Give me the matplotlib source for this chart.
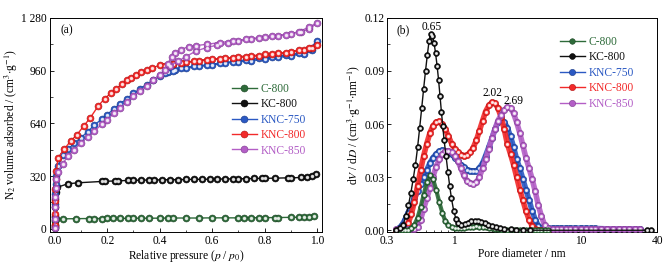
import numpy as np
import matplotlib
matplotlib.use("Agg")
import matplotlib.pyplot as plt
from matplotlib.ticker import MultipleLocator, FixedLocator, NullFormatter, LogLocator

plt.rcParams['font.family'] = ['Liberation Serif', 'DejaVu Serif']
plt.rcParams['mathtext.fontset'] = 'stix'
plt.rcParams['font.size'] = 8.3

# ---- (a) N2 isotherms: adsorption then desorption points ----
p_c800 = [0, 0.0001, 0.0005, 0.001, 0.005, 0.03, 0.08, 0.13, 0.15, 0.18, 0.2, 0.22, 0.25, 0.28, 0.3,
          0.33, 0.36, 0.4, 0.43, 0.45, 0.5, 0.55, 0.6, 0.65, 0.7, 0.72, 0.75, 0.78, 0.8, 0.84, 0.85,
          0.9, 0.93, 0.95, 0.97, 0.99]
v_c800 = [5, 25, 45, 55, 58, 60, 61, 62, 62, 62, 63, 63, 63, 63, 64, 64, 64, 64, 65, 65, 65, 65,
          66, 66, 66, 67, 67, 67, 67, 68, 68, 69, 70, 71, 72, 78]

p_kc800 = [0, 0.0001, 0.0005, 0.001, 0.003, 0.01, 0.05, 0.09, 0.18, 0.19, 0.23, 0.24, 0.28, 0.3,
           0.33, 0.36, 0.38, 0.41, 0.44, 0.47, 0.5, 0.53, 0.56, 0.59, 0.62, 0.65, 0.68, 0.7, 0.73,
           0.76, 0.79, 0.8, 0.84, 0.89, 0.9, 0.94, 0.96, 0.98, 0.995]
v_kc800 = [10, 70, 130, 180, 220, 252, 273, 279, 287, 288, 290, 291, 293, 294, 295, 296, 296, 297,
           298, 298, 299, 300, 300, 301, 302, 302, 303, 303, 304, 305, 306, 306, 307, 309, 309, 311,
           313, 318, 332]

p_knc750 = [0, 0.0001, 0.0005, 0.001, 0.003, 0.006, 0.012, 0.03, 0.05, 0.075, 0.1, 0.125, 0.15,
            0.18, 0.2, 0.225, 0.25, 0.275, 0.3, 0.325, 0.35, 0.375, 0.4, 0.43, 0.46, 0.5, 0.55,
            0.6, 0.65, 0.7, 0.75, 0.8, 0.85, 0.9, 0.95, 0.98, 1.0,
            0.97, 0.93, 0.88, 0.83, 0.78, 0.73, 0.68, 0.63, 0.58, 0.53, 0.48, 0.45, 0.42]
v_knc750 = [15, 80, 150, 210, 270, 320, 380, 445, 481, 520, 552, 590, 627, 668, 693, 728, 760,
            790, 821, 850, 875, 905, 930, 950, 962, 975, 985, 995, 1005, 1015, 1020, 1030, 1040,
            1050, 1062, 1085, 1140,
            1090, 1065, 1055, 1045, 1035, 1025, 1015, 1005, 995, 985, 975, 960, 945]

p_knc800 = [0, 0.0001, 0.0005, 0.001, 0.003, 0.006, 0.012, 0.035, 0.06, 0.085, 0.11, 0.135, 0.165,
            0.19, 0.215, 0.235, 0.255, 0.275, 0.29, 0.31, 0.33, 0.35, 0.37, 0.4, 0.45, 0.5, 0.55,
            0.6, 0.65, 0.7, 0.75, 0.8, 0.85, 0.9, 0.95, 0.98, 1.0,
            0.97, 0.93, 0.88, 0.83, 0.78, 0.73, 0.68, 0.63, 0.58, 0.53, 0.48, 0.45, 0.42]
v_knc800 = [20, 90, 170, 240, 300, 350, 430, 481, 532, 572, 623, 673, 744, 790, 825, 850, 878, 900,
            915, 935, 950, 965, 975, 993, 1000, 1010, 1020, 1030, 1035, 1045, 1050, 1058, 1065,
            1075, 1085, 1100, 1115,
            1098, 1085, 1068, 1060, 1050, 1045, 1035, 1032, 1025, 1017, 1008, 1000, 990]

p_knc850 = [0, 0.0001, 0.0005, 0.001, 0.003, 0.006, 0.012, 0.03, 0.05, 0.075, 0.1, 0.125, 0.15,
            0.18, 0.2, 0.225, 0.25, 0.275, 0.3, 0.325, 0.35, 0.375, 0.4, 0.42, 0.44, 0.47, 0.5,
            0.54, 0.58, 0.62, 0.66, 0.7, 0.75, 0.8, 0.85, 0.9, 0.94, 0.97, 1.0,
            0.97, 0.93, 0.88, 0.83, 0.78, 0.73, 0.68, 0.63, 0.58, 0.54, 0.51, 0.48, 0.46, 0.445, 0.43]
v_knc850 = [5, 60, 130, 190, 250, 300, 345, 395, 440, 480, 521, 556, 592, 635, 663, 700, 734, 770,
            805, 835, 865, 900, 936, 965, 990, 1017, 1045, 1080, 1100, 1115, 1125, 1140, 1150, 1163,
            1172, 1185, 1197, 1210, 1250,
            1225, 1195, 1178, 1168, 1160, 1150, 1140, 1130, 1120, 1112, 1105, 1088, 1065, 1040, 1000]

# ---- (b) pore size distributions ----
d_grid = [0.35, 0.370, 0.392, 0.414, 0.438, 0.464, 0.490, 0.519, 0.549, 0.580, 0.614, 0.650,
          0.687, 0.727, 0.769, 0.813, 0.860, 0.910, 0.963, 1.02, 1.08, 1.14, 1.20, 1.27, 1.35,
          1.42, 1.51, 1.59, 1.69, 1.78, 1.89, 2.00, 2.11, 2.23, 2.36, 2.50, 2.64, 2.80, 2.96,
          3.13, 3.31, 3.50, 3.70, 3.92, 4.14, 4.38, 4.64, 4.90, 5.19, 5.49]
d_tail = [6.0, 6.5, 7.0, 7.6, 8.2, 9.0, 10, 11, 12, 13, 14.5, 16, 18, 20, 22, 24, 26.5, 29]

psd_c800 = [0, 0, 0, 0, 0, 0.001, 0.003, 0.007, 0.013, 0.020, 0.027, 0.031, 0.029, 0.023, 0.016,
            0.010, 0.005, 0.0028, 0.0018, 0.0012, 0.0012, 0.0013, 0.0015, 0.0018, 0.002, 0.0021,
            0.0022, 0.0021, 0.0019, 0.0016, 0.0013, 0.001, 0.0007, 0.0005, 0.0003, 0.0002, 0.0001,
            0, 0, 0, 0, 0, 0, 0, 0, 0, 0, 0, 0, 0]
psd_knc750 = [0, 0.001, 0.003, 0.006, 0.010, 0.014, 0.018, 0.022, 0.026, 0.030, 0.034, 0.038,
              0.041, 0.043, 0.0445, 0.0452, 0.045, 0.0442, 0.043, 0.041, 0.039, 0.037, 0.0355,
              0.0343, 0.0337, 0.0335, 0.0335, 0.035, 0.038, 0.042, 0.047, 0.052, 0.057, 0.061,
              0.0625, 0.061, 0.058, 0.053, 0.047, 0.040, 0.035, 0.029, 0.023, 0.017, 0.011, 0.006,
              0.0025, 0.0014, 0.0012, 0.0012]
psd_knc750_tail = [0.0012, 0.0012, 0.0012, 0.0012, 0.0012, 0.0012, 0.0012, 0.0012, 0.0011, 0.001,
                   0.0009, 0.0008, 0.0008, 0.0008, 0.0008, 0.0008, 0.0008, 0.0008]
psd_knc800 = [0, 0, 0, 0.001, 0.004, 0.009, 0.016, 0.025, 0.034, 0.042, 0.049, 0.055, 0.059,
              0.061, 0.0615, 0.060, 0.057, 0.053, 0.049, 0.046, 0.044, 0.0428, 0.0422, 0.0425,
              0.044, 0.0465, 0.051, 0.056, 0.062, 0.067, 0.0705, 0.0722, 0.0718, 0.069, 0.064,
              0.057, 0.049, 0.043, 0.037, 0.030, 0.023, 0.017, 0.011, 0.006, 0.0025, 0.0008,
              0.0002, 0, 0, 0]
psd_knc850 = [0.0005, 0.0005, 0.0005, 0.0005, 0.0005, 0.0005, 0.0006, 0.002, 0.006, 0.012, 0.018,
              0.024, 0.030, 0.036, 0.040, 0.043, 0.0445, 0.045, 0.044, 0.042, 0.039, 0.035,
              0.031, 0.028, 0.0265, 0.0262, 0.027, 0.030, 0.035, 0.040, 0.046, 0.052, 0.057,
              0.062, 0.065, 0.068, 0.0695, 0.069, 0.066, 0.061, 0.055, 0.048, 0.041, 0.035, 0.029,
              0.022, 0.014, 0.008, 0.003, 0.001]
psd_knc850_tail = [0.0008] * 18

d_kc800 = [0.35, 0.38, 0.40, 0.42, 0.44, 0.46, 0.48, 0.50, 0.52, 0.54, 0.56, 0.58, 0.60, 0.62,
           0.64, 0.66, 0.68, 0.70, 0.72, 0.74, 0.76, 0.78, 0.80, 0.82, 0.84, 0.87, 0.90, 0.93,
           0.96, 1.00, 1.04, 1.09, 1.15, 1.22, 1.30, 1.38, 1.46, 1.55, 1.65, 1.75, 1.87, 2.0,
           2.15, 2.3, 2.5, 2.8, 3.1, 3.5, 4.0, 33, 36]
psd_kc800 = [0, 0.001, 0.003, 0.008, 0.014, 0.021, 0.029, 0.037, 0.047, 0.058, 0.069, 0.080,
             0.090, 0.099, 0.107, 0.111, 0.110, 0.106, 0.100, 0.093, 0.085, 0.076, 0.067, 0.059,
             0.051, 0.042, 0.033, 0.025, 0.018, 0.011, 0.0065, 0.004, 0.0032, 0.0033, 0.0042,
             0.005, 0.0054, 0.0053, 0.0048, 0.004, 0.0032, 0.0025, 0.0018, 0.0013, 0.0009, 0.0005,
             0.0003, 0.0001, 0, 0, 0]

names = ['C-800', 'KC-800', 'KNC-750', 'KNC-800', 'KNC-850']
colors = ['#2e6b3a', '#111111', '#2b59c3', '#f22a2a', '#b35ec6']
edges = ['#1c4424', '#000000', '#1a3a86', '#b01010', '#7d3a8e']

fig = plt.figure(figsize=(6.7, 2.69), dpi=100)
ax1 = fig.add_axes([0.074, 0.1375, 0.407, 0.796])
ax2 = fig.add_axes([0.578, 0.1375, 0.403, 0.796])


def beads(ax, x, y, i, ms, label=None, band=0, z=2):
    if band:
        # dense beads in the original merge into a solid band
        ax.plot(x, y, '-', color=colors[i], lw=band, solid_capstyle='round', alpha=0.9, zorder=z)
    ax.plot(x, y, '-', color=colors[i], lw=1.0, marker='o', ms=ms, mfc=colors[i],
            mec=edges[i], mew=0.4, label=label, zorder=z)
    ax.plot(x, y, 'o', ls='none', ms=ms * 0.3, color='white', alpha=0.75, zorder=z)


iso = [(p_c800, v_c800), (p_kc800, v_kc800), (p_knc750, v_knc750),
       (p_knc800, v_knc800), (p_knc850, v_knc850)]
for i, (x, y) in enumerate(iso):
    beads(ax1, x, y, i, 5, names[i])

ax1.set_xlim(-0.02, 1.02)
ax1.set_ylim(-20, 1280)
ax1.xaxis.set_major_locator(MultipleLocator(0.2))
ax1.xaxis.set_minor_locator(MultipleLocator(0.1))
ax1.xaxis.set_major_formatter(plt.FuncFormatter(lambda v, _: '%.1f' % abs(v)))
ax1.yaxis.set_major_locator(FixedLocator([0, 320, 640, 960, 1280]))
ax1.yaxis.set_minor_locator(MultipleLocator(160))
ax1.set_yticklabels(['0', '320', '640', '960', '1 280'])
ax1.set_xlabel('Relative pressure ($p$ / $p_0$)', labelpad=1)
ax1.set_ylabel('N$_2$ volume adsorbed / (cm$^3$$\\cdot$g$^{-1}$)', labelpad=1)
ax1.text(0.064, 0.94, '(a)', transform=ax1.transAxes, ha='center', va='center')

leg1 = ax1.legend(loc='center left', bbox_to_anchor=(0.63, 0.525), frameon=False,
                  handlelength=2.2, handletextpad=0.3, labelspacing=0.3)
for t, c in zip(leg1.get_texts(), colors):
    t.set_color(c)

# (b)  drawn in the same stacking order as the original
beads(ax2, d_grid, psd_c800, 0, 4, names[0], band=3, z=5)
beads(ax2, d_kc800, psd_kc800, 1, 4.2, names[1], z=6)
beads(ax2, d_grid + d_tail, psd_knc750 + psd_knc750_tail, 2, 4.5, names[2], band=4, z=2)
beads(ax2, d_grid, psd_knc800, 3, 4.5, names[3], band=4, z=3)
beads(ax2, d_grid + d_tail, psd_knc850 + psd_knc850_tail, 4, 4.5, names[4], band=4, z=4)

ax2.set_xscale('log')
ax2.set_xlim(0.3, 40)
ax2.set_ylim(-0.001, 0.12)
ax2.xaxis.set_major_locator(FixedLocator([0.3, 1, 10, 40]))
ax2.xaxis.set_major_formatter(plt.FuncFormatter(lambda v, _: '%g' % v))
ax2.xaxis.set_minor_locator(LogLocator(base=10, subs=np.arange(2, 10) * 1.0))
ax2.xaxis.set_minor_formatter(NullFormatter())
ax2.yaxis.set_major_locator(MultipleLocator(0.03))
ax2.yaxis.set_minor_locator(MultipleLocator(0.015))
ax2.yaxis.set_major_formatter(plt.FuncFormatter(lambda v, _: '%.2f' % v))
ax2.set_xlabel('Pore diameter / nm', labelpad=1)
ax2.set_ylabel('d$V$ / d$D$ / (cm$^3$$\\cdot$g$^{-1}$$\\cdot$nm$^{-1}$)', labelpad=1)
ax2.text(0.06, 0.94, '(b)', transform=ax2.transAxes, ha='center', va='center')
ax2.text(0.67, 0.1148, '0.65', ha='center', va='center')
ax2.text(2.0, 0.0775, '2.02', ha='center', va='center')
ax2.text(2.95, 0.0733, '2.69', ha='center', va='center')

leg2 = ax2.legend(loc='upper left', bbox_to_anchor=(0.6, 0.965), frameon=False,
                  handlelength=2.2, handletextpad=0.3, labelspacing=0.3)
for t, c in zip(leg2.get_texts(), colors):
    t.set_color(c)

for ax in (ax1, ax2):
    ax.tick_params(which='both', direction='in', top=False, right=False, labelsize=8.3, pad=2)
    ax.tick_params(which='major', length=3, width=0.6)
    ax.tick_params(which='minor', length=1.8, width=0.5)
    for s in ax.spines.values():
        s.set_linewidth(0.7)

fig.savefig('out.png', dpi=100, facecolor='white')
